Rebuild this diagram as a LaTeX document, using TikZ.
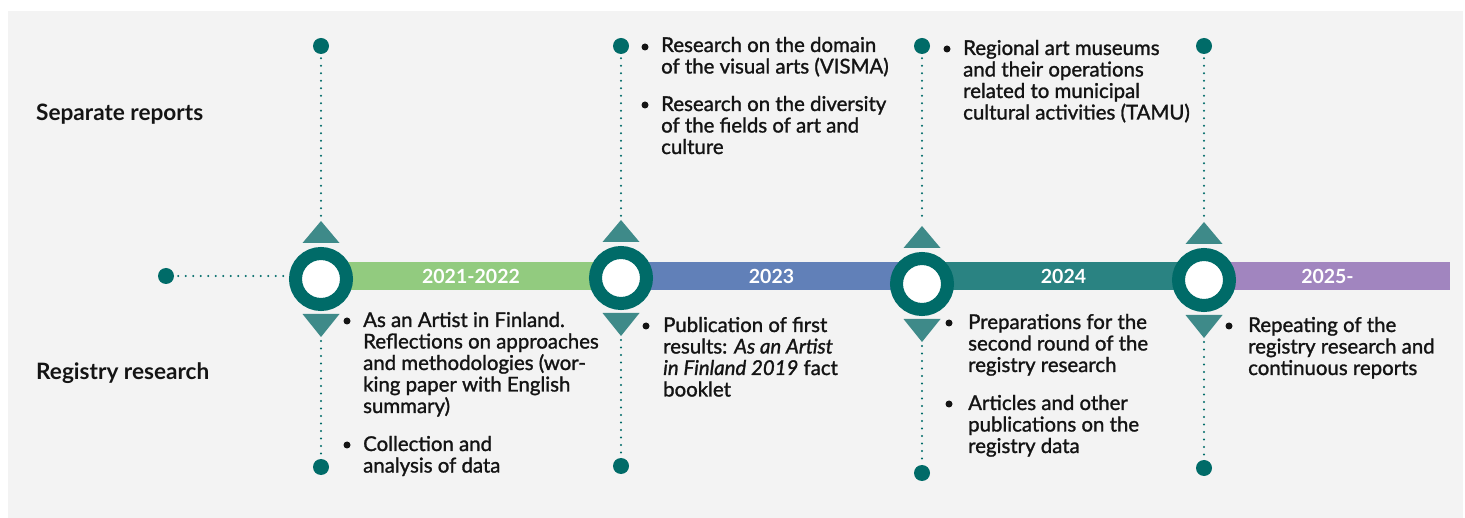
\documentclass[tikz,border=0pt]{standalone}
\usepackage{fontspec}
\setmainfont{Lato}
\newfontfamily\bodyfont{Lato}[FakeBold=1.3]
\definecolor{bgc}{HTML}{F3F3F3}
\definecolor{ringc}{HTML}{006B68}
\definecolor{tric}{HTML}{3E8A89}
\definecolor{cgreen}{HTML}{92CB7F}
\definecolor{cblue}{HTML}{6180B8}
\definecolor{cteal}{HTML}{2A8382}
\definecolor{cpurple}{HTML}{A185BF}
\definecolor{txtc}{HTML}{141414}
\begin{document}
\begin{tikzpicture}[x=1pt,y=-1pt,
  bar/.style={rectangle, minimum height=28pt, inner sep=0pt, text=white,
    font=\fontsize{19.5}{22}\selectfont\bfseries},
  ring/.style={circle, draw=ringc, fill=white, line width=13pt, minimum size=51pt, inner sep=0pt},
  dotnode/.style={circle, fill=ringc, minimum size=16pt, inner sep=0pt},
  tri/.style={fill=tric},
  dots/.style={draw=ringc, line width=2.2pt, line cap=round, dash pattern=on 0pt off 7.5pt,
    shorten <=4pt, shorten >=4pt},
  bul/.style={circle, fill=txtc, minimum size=7pt, inner sep=0pt},
  txt/.style={anchor=base west, align=left, inner sep=0pt, text=txtc,
    font=\bodyfont\fontsize{20.4}{21.5}\selectfont},
  head/.style={anchor=base west, inner sep=0pt, text=txtc,
    font=\fontsize{22.6}{26}\selectfont\bfseries}
]
\useasboundingbox (0,0) rectangle (1465,518);
\fill[bgc] (8,11) rectangle (1463,518);

% headings
\node[head] (h1) at (36,121) {Separate reports};
\node[head] (h2) at (36,380) {Registry research};

% timeline bars
\node[bar, fill=cgreen, minimum width=300pt] (y1) at (471,276) {2021-2022};
\node[bar, fill=cblue, minimum width=301pt] (y2) at (771.5,276) {2023};
\node[bar, fill=cteal, minimum width=283pt] (y3) at (1063.5,276) {2024};
\node[bar, fill=cpurple, minimum width=245pt] (y4) at (1327.5,276) {2025-};

% start dot
\node[dotnode] (l0) at (166,276) {};

% rings
\node[ring] (c1) at (321,279) {};
\node[ring] (c2) at (621,278) {};
\node[ring] (c3) at (922,284) {};
\node[ring] (c4) at (1204,280) {};

\draw[dots] (l0) -- (l0 -| c1.west);

% triangles and apex coordinates
\foreach \c in {c1,c2,c3,c4}{
  \fill[tri] (\c) ++(-18.5,-36) -- ++(37,0) -- ++(-18.5,-22) -- cycle;
  \fill[tri] (\c) ++(-18.5,35) -- ++(37,0) -- ++(-18.5,23) -- cycle;
  \path (\c) ++(0,-58) coordinate (\c u);
  \path (\c) ++(0,58) coordinate (\c d);
}

% top and bottom dots
\node[dotnode] (t1) at (321,46) {};
\node[dotnode] (t2) at (621,46) {};
\node[dotnode] (t3) at (922,46) {};
\node[dotnode] (t4) at (1204,46) {};
\node[dotnode] (b1) at (321,467) {};
\node[dotnode] (b2) at (621,466) {};
\node[dotnode] (b3) at (922,473) {};
\node[dotnode] (b4) at (1204,468) {};

\draw[dots] (t1) -- (c1u);
\draw[dots] (t2) -- (c2u);
\draw[dots] (t3) -- (c3u);
\draw[dots] (t4) -- (c4u);
\draw[dots] (c1d) -- (b1);
\draw[dots] (c2d) -- (b2);
\draw[dots] (c3d) -- (b3);
\draw[dots] (c4d) -- (b4);

% upper texts (anchor = baseline of the last line)
\node[bul] (pu2a) at (645,47) {};
\node[txt] (u2a) at (661,73.5) {Research on the domain\\of the visual arts (VISMA)};
\node[bul] (pu2b) at (645,105) {};
\node[txt] (u2b) at (661,154) {Research on the diversity\\of the fields of art and\\culture};
\node[bul] (pu3) at (947,49) {};
\node[txt] (u3) at (963,119.5) {Regional art museums\\and their operations\\related to municipal\\cultural activities (TAMU)};

% lower texts
\node[bul] (pl1a) at (347,321) {};
\node[txt] (l1a) at (363,413) {As an Artist in Finland.\\Reflections on approaches\\and methodologies (wor-\\king paper with English\\summary)};
\node[bul] (pl1b) at (347,445) {};
\node[txt] (l1b) at (363,472.5) {Collection and\\analysis of data};
\node[bul] (pl2) at (646,326) {};
\node[txt] (l2) at (663,396.5) {Publication of first\\results: \textit{As an Artist}\\\textit{in Finland 2019} fact\\booklet};
\node[bul] (pl3a) at (949,323) {};
\node[txt] (l3a) at (968,372) {Preparations for the\\second round of the\\registry research};
\node[bul] (pl3b) at (949,404) {};
\node[txt] (l3b) at (968,453) {Articles and other\\publications on the\\registry data};
\node[bul] (pl4) at (1229,326) {};
\node[txt] (l4) at (1248,375) {Repeating of the\\registry research and\\continuous reports};
\end{tikzpicture}
\end{document}
